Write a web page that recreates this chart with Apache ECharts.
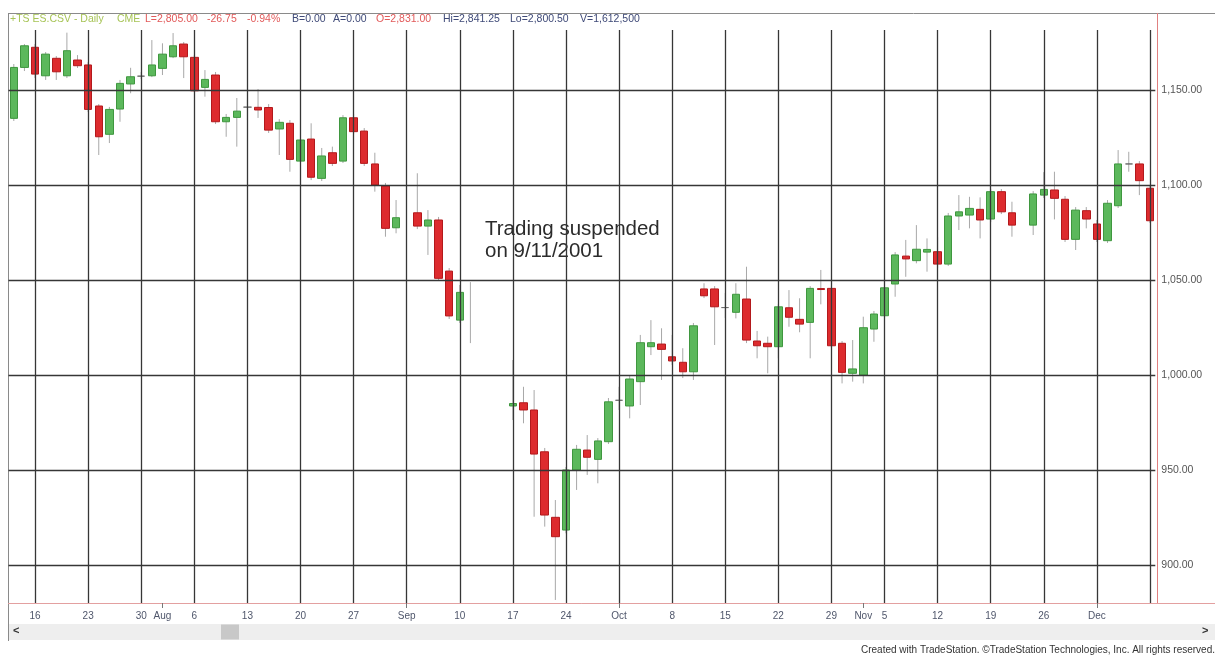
<!DOCTYPE html>
<html><head><meta charset="utf-8">
<script src="https://cdn.jsdelivr.net/npm/echarts@6/dist/echarts.min.js"></script>
<style>html,body{margin:0;padding:0;background:#fff}#c{width:1220px;height:663px}</style>
</head><body><div id="c"></div>
<script>
// ---- data ----
const tradeDates = ['2001-07-12','2001-07-13','2001-07-16','2001-07-17','2001-07-18','2001-07-19','2001-07-20','2001-07-23','2001-07-24','2001-07-25','2001-07-26','2001-07-27','2001-07-30','2001-07-31','2001-08-01','2001-08-02','2001-08-03','2001-08-06','2001-08-07','2001-08-08','2001-08-09','2001-08-10','2001-08-13','2001-08-14','2001-08-15','2001-08-16','2001-08-17','2001-08-20','2001-08-21','2001-08-22','2001-08-23','2001-08-24','2001-08-27','2001-08-28','2001-08-29','2001-08-30','2001-08-31','2001-09-04','2001-09-05','2001-09-06','2001-09-07','2001-09-10','2001-09-11','2001-09-17','2001-09-18','2001-09-19','2001-09-20','2001-09-21','2001-09-24','2001-09-25','2001-09-26','2001-09-27','2001-09-28','2001-10-01','2001-10-02','2001-10-03','2001-10-04','2001-10-05','2001-10-08','2001-10-09','2001-10-10','2001-10-11','2001-10-12','2001-10-15','2001-10-16','2001-10-17','2001-10-18','2001-10-19','2001-10-22','2001-10-23','2001-10-24','2001-10-25','2001-10-26','2001-10-29','2001-10-30','2001-10-31','2001-11-01','2001-11-02','2001-11-05','2001-11-06','2001-11-07','2001-11-08','2001-11-09','2001-11-12','2001-11-13','2001-11-14','2001-11-15','2001-11-16','2001-11-19','2001-11-20','2001-11-21','2001-11-23','2001-11-26','2001-11-27','2001-11-28','2001-11-29','2001-11-30','2001-12-03','2001-12-04','2001-12-05','2001-12-06','2001-12-07','2001-12-10'];
const openVals  = [1135.1,1161.9,1172.5,1157.5,1166.7,1157.5,1165.8,1163.2,1141.6,1126.7,1140.0,1153.2,1157.3,1157.5,1161.4,1167.5,1174.2,1167.2,1151.4,1157.9,1133.3,1135.6,1141.0,1140.9,1140.8,1129.5,1132.5,1112.6,1124.2,1103.5,1117.0,1112.6,1135.4,1128.4,1111.1,1099.5,1077.5,1085.4,1078.4,1081.6,1054.7,1028.9,null,983.7,985.4,981.6,959.6,925.1,918.4,950.0,960.5,955.6,964.9,986.7,983.7,996.5,1014.9,1016.3,1009.6,1006.7,1001.7,1045.3,1045.3,1035.5,1033.0,1040.0,1017.9,1016.7,1014.9,1035.4,1029.3,1027.7,1045.5,1045.6,1016.7,1000.9,1000.0,1024.2,1031.2,1047.9,1062.6,1060.2,1064.7,1064.9,1058.4,1083.7,1084.2,1087.2,1082.1,1096.5,1085.4,1078.9,1094.7,1097.4,1092.5,1071.4,1086.5,1079.5,1070.7,1089.1,1111.1,1111.1,1098.3];
const highVals  = [1163.7,1174.2,1174.2,1170.0,1167.9,1180.2,1168.4,1164.7,1142.6,1141.1,1155.3,1161.7,1159.5,1176.3,1174.6,1180.0,1175.3,1168.4,1160.5,1159.5,1137.4,1145.8,1144.7,1150.5,1142.6,1134.7,1134.2,1125.3,1132.5,1119.5,1120.2,1136.8,1137.4,1130.0,1117.0,1101.1,1092.1,1106.2,1086.8,1083.2,1056.3,1047.4,1048.9,1007.9,993.8,992.1,961.6,934.2,951.6,963.2,968.4,966.8,987.9,993.8,999.5,1021.1,1028.9,1024.6,1021.1,1014.1,1027.4,1048.3,1046.8,1043.2,1048.3,1057.0,1023.2,1020.2,1037.4,1044.7,1040.4,1046.8,1055.3,1046.8,1017.9,1018.4,1030.7,1033.7,1047.4,1064.7,1071.1,1078.9,1071.9,1072.5,1085.3,1094.7,1093.8,1093.5,1097.9,1097.9,1091.2,1096.8,1106.8,1107.0,1094.2,1088.4,1088.4,1081.6,1092.1,1118.4,1117.5,1112.6,1099.5];
const lowVals   = [1133.7,1160.0,1156.3,1155.3,1155.3,1156.3,1161.6,1138.4,1115.8,1122.1,1133.3,1148.3,1155.8,1156.8,1157.9,1166.8,1156.3,1148.9,1146.5,1132.1,1125.4,1120.2,1134.2,1135.3,1127.4,1115.8,1107.0,1111.1,1102.6,1102.1,1110.0,1111.6,1126.8,1110.0,1096.5,1072.8,1074.6,1076.8,1063.2,1049.5,1029.5,1027.4,1016.8,976.3,974.6,925.4,920.2,881.6,916.7,939.5,947.4,943.0,963.7,981.6,977.2,984.2,1010.5,997.4,1005.3,998.4,997.4,1040.5,1015.8,1030.0,1029.8,1016.8,1008.8,1000.9,1008.8,1025.4,1022.5,1008.8,1037.2,1014.2,995.6,996.5,995.6,1017.5,1030.0,1041.2,1051.7,1058.8,1054.4,1056.3,1057.4,1076.3,1077.2,1071.9,1080.5,1084.7,1072.8,1073.7,1093.2,1081.9,1070.0,1065.8,1077.2,1070.0,1069.5,1087.9,1107.0,1094.7,1080.0];
const closeVals = [1161.9,1173.3,1158.4,1168.9,1159.6,1170.7,1162.8,1139.8,1125.4,1139.8,1153.5,1157.0,1157.3,1163.2,1168.9,1173.3,1167.5,1149.6,1155.6,1133.3,1135.6,1138.9,1141.0,1139.5,1128.9,1133.0,1113.5,1123.7,1104.1,1115.3,1111.4,1135.4,1128.1,1111.4,1100.0,1077.2,1082.8,1078.4,1081.6,1050.9,1031.1,1043.5,null,985.0,981.6,958.4,926.3,914.9,950.0,960.9,956.7,965.3,985.9,986.7,997.9,1017.0,1017.0,1013.5,1007.4,1001.7,1025.9,1041.7,1035.9,1035.5,1042.5,1018.4,1015.4,1014.9,1035.9,1030.4,1026.8,1045.6,1045.0,1015.4,1001.4,1003.2,1024.9,1032.1,1045.9,1063.2,1061.1,1066.2,1066.1,1058.4,1083.7,1085.9,1087.7,1081.6,1096.5,1085.9,1078.9,1095.3,1097.7,1093.0,1071.4,1086.8,1082.1,1071.4,1090.4,1111.1,1111.1,1102.3,1081.2];

const axisStart = '2001-07-12';
const axisEnd = '2001-12-10';
const tickDates  = ['2001-07-16','2001-07-23','2001-07-30','2001-08-01','2001-08-06','2001-08-13','2001-08-20','2001-08-27','2001-09-03','2001-09-10','2001-09-17','2001-09-24','2001-10-01','2001-10-08','2001-10-15','2001-10-22','2001-10-29','2001-11-01','2001-11-05','2001-11-12','2001-11-19','2001-11-26','2001-12-03'];
const tickLabels = ['16','23','30','Aug','6','13','20','27','Sep','10','17','24','Oct','8','15','22','29','Nov','5','12','19','26','Dec'];
const weekLineDates = ['2001-07-16','2001-07-23','2001-07-30','2001-08-06','2001-08-13','2001-08-20','2001-08-27','2001-09-03','2001-09-10','2001-09-17','2001-09-24','2001-10-01','2001-10-08','2001-10-15','2001-10-22','2001-10-29','2001-11-05','2001-11-12','2001-11-19','2001-11-26','2001-12-03','2001-12-10'];
const monthStartDates = ['2001-08-01','2001-09-03','2001-10-01','2001-11-01','2001-12-03'];
const priceTicks = [900, 950, 1000, 1050, 1100, 1150];
const priceMin = 880, priceMax = 1181.6;

// ---- weekday axis (holidays / suspended days keep their slot) ----
const cats = [];
for (let d = new Date(axisStart + 'T00:00:00Z'); d <= new Date(axisEnd + 'T00:00:00Z'); d.setUTCDate(d.getUTCDate() + 1)) {
  const wd = d.getUTCDay();
  if (wd !== 0 && wd !== 6) cats.push(d.toISOString().slice(0, 10));
}
const idxOf = {};
tradeDates.forEach((t, i) => { idxOf[t] = i; });
const labelOf = {};
tickDates.forEach((t, i) => { labelOf[t] = tickLabels[i]; });

const bodyData = cats.map(c => {
  const i = idxOf[c];
  if (i === undefined || openVals[i] == null) return '-';
  const o = openVals[i], cl = closeVals[i];
  return [o, cl, Math.min(o, cl), Math.max(o, cl)];
});
const wickData = [];
cats.forEach(c => {
  const i = idxOf[c];
  if (i !== undefined) wickData.push([c, lowVals[i], highVals[i]]);
});

function fmtPrice(v) {
  const s = v.toFixed(2).split('.');
  return s[0].replace(/\B(?=(\d{3})+(?!\d))/g, ',') + '.' + s[1];
}

const gridLineStyle = { color: '#363636', width: 1.3, type: 'solid' };
const markData = weekLineDates.map(d => ({ xAxis: d, label: { show: false } }))
  .concat(priceTicks.map(v => ({
    yAxis: v,
    label: { show: true, position: 'end', distance: 6, formatter: fmtPrice(v),
             color: '#555', fontSize: 10.5, fontFamily: 'Liberation Sans' }
  })));

const FONT = 'Liberation Sans';
function hdr(x, text, color) {
  return { type: 'text', left: x, top: 14, silent: true,
    style: { text: text, fill: color, font: '10.5px "Liberation Sans"' } };
}

const chart = echarts.init(document.getElementById('c'), null, { renderer: 'canvas' });
chart.setOption({
  animation: false,
  backgroundColor: '#ffffff',
  grid: { left: 8.5, right: 64.7, top: 30, bottom: 60, containLabel: false },
  xAxis: {
    type: 'category', data: cats, boundaryGap: true,
    axisLine: { show: true, lineStyle: { color: '#e3a0a0', width: 1 } },
    axisTick: { show: true, alignWithLabel: true, length: 5,
      interval: (i, v) => monthStartDates.indexOf(v) >= 0,
      lineStyle: { color: '#777' } },
    axisLabel: { interval: 0, margin: 8, fontSize: 10, color: '#4f566b', fontFamily: FONT,
      formatter: v => labelOf[v] || '' },
    splitLine: { show: false }
  },
  yAxis: {
    type: 'value', position: 'right', min: priceMin, max: priceMax, scale: true,
    axisLine: { show: false }, axisTick: { show: false }, axisLabel: { show: false },
    splitLine: { show: false }
  },
  series: [
    {
      name: 'grid', type: 'line', data: [], z: 1, silent: true,
      markLine: { silent: true, symbol: ['none', 'none'], animation: false,
        lineStyle: gridLineStyle, data: markData }
    },
    {
      name: 'wicks', type: 'custom', z: 2, silent: true,
      data: wickData, encode: { x: 0, y: [1, 2] },
      renderItem: (params, api) => {
        const p1 = api.coord([api.value(0), api.value(1)]);
        const p2 = api.coord([api.value(0), api.value(2)]);
        return { type: 'line', shape: { x1: p1[0], y1: p1[1], x2: p2[0], y2: p2[1] },
          style: { stroke: '#a8a8a8', lineWidth: 1 } };
      }
    },
    {
      name: 'ES', type: 'candlestick', z: 3, barWidth: 8,
      data: bodyData,
      itemStyle: {
        color: '#5cb85c', color0: '#dd2b2e',
        borderColor: '#3f973f', borderColor0: '#b3191c',
        borderColorDoji: '#6e6e6e', borderWidth: 1
      }
    }
  ],
  graphic: [
    { type: 'line', silent: true, shape: { x1: 9, y1: 13.5, x2: 1215, y2: 13.5 }, style: { stroke: '#8a8a8a', lineWidth: 1 } },
    { type: 'line', silent: true, shape: { x1: 8.5, y1: 13, x2: 8.5, y2: 641 }, style: { stroke: '#8a8a8a', lineWidth: 1 } },
    { type: 'line', silent: true, shape: { x1: 1157.5, y1: 13, x2: 1157.5, y2: 603 }, style: { stroke: '#e08080', lineWidth: 1 } },
    { type: 'line', silent: true, shape: { x1: 1155, y1: 603.5, x2: 1215, y2: 603.5 }, style: { stroke: '#e3a0a0', lineWidth: 1 } },
    { type: 'rect', silent: true, shape: { x: 9, y: 624, width: 1206, height: 16 }, style: { fill: '#eeeeee' } },
    { type: 'rect', silent: true, shape: { x: 221, y: 624.5, width: 18, height: 15 }, style: { fill: '#c8c8c8' } },
    { type: 'text', silent: true, left: 13, top: 625, style: { text: '<', fill: '#333', font: 'bold 11px "Liberation Sans"' } },
    { type: 'text', silent: true, left: 1202, top: 625, style: { text: '>', fill: '#333', font: 'bold 11px "Liberation Sans"' } },
    hdr(10, '+TS ES.CSV - Daily', '#a7c457'),
    hdr(117, 'CME', '#a7c457'),
    hdr(145, 'L=2,805.00', '#e25a5a'),
    hdr(207, '-26.75', '#e25a5a'),
    hdr(247, '-0.94%', '#e25a5a'),
    hdr(292, 'B=0.00', '#3f4a78'),
    hdr(333, 'A=0.00', '#3f4a78'),
    hdr(376, 'O=2,831.00', '#e25a5a'),
    hdr(443, 'Hi=2,841.25', '#3f4a78'),
    hdr(510, 'Lo=2,800.50', '#3f4a78'),
    hdr(580, 'V=1,612,500', '#3f4a78'),
    { type: 'text', silent: true, x: 485, y: 229.7,
      style: { text: 'Trading suspended', fill: '#2b2b2b', font: '20.5px "Liberation Sans"', verticalAlign: 'middle' } },
    { type: 'text', silent: true, x: 485, y: 251.8,
      style: { text: 'on 9/11/2001', fill: '#2b2b2b', font: '20.5px "Liberation Sans"', verticalAlign: 'middle' } },
    { type: 'text', silent: true, right: 5, top: 645,
      style: { text: 'Created with TradeStation. \u00A9TradeStation Technologies, Inc. All rights reserved.', fill: '#333', font: '10px "Liberation Sans"' } }
  ]
});
</script>
</body></html>
